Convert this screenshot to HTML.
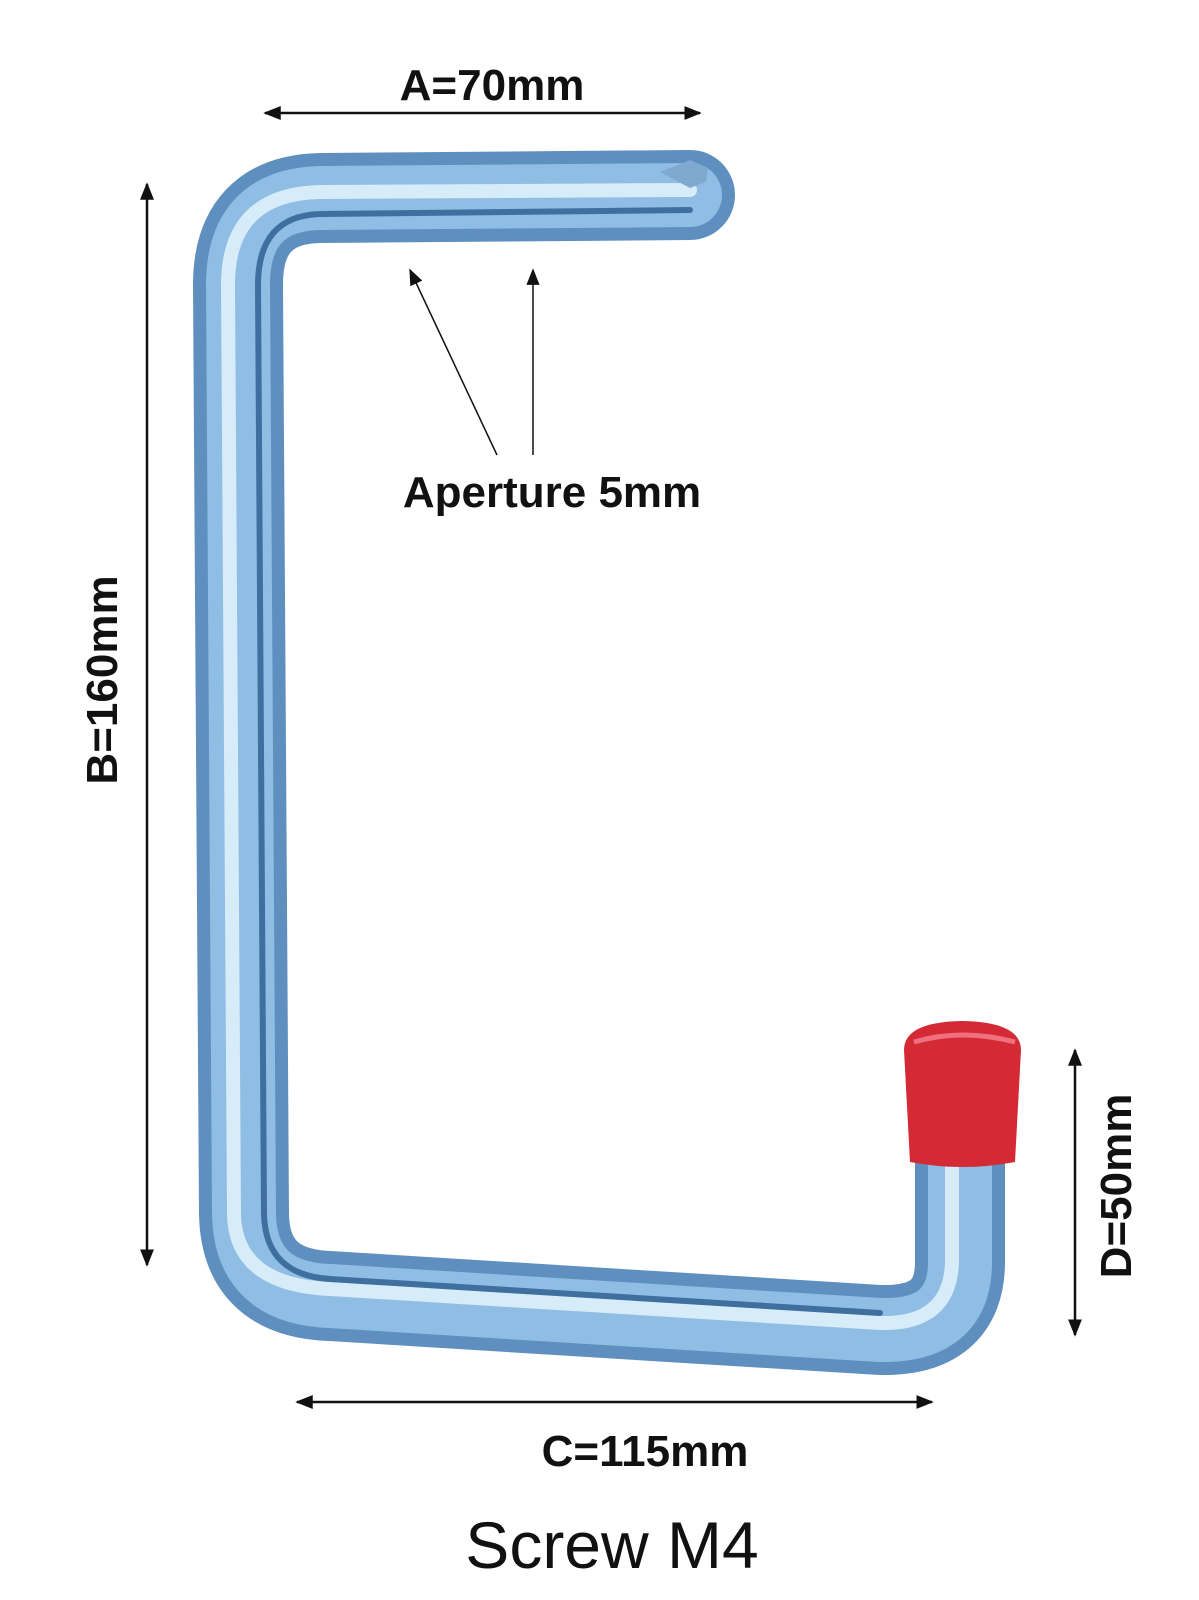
<!DOCTYPE html>
<html><head><meta charset="utf-8"><style>
html,body{margin:0;padding:0;background:#fff;}
svg{display:block}
text{font-family:"Liberation Sans",sans-serif;}
</style></head><body>
<svg width="1199" height="1600" viewBox="0 0 1199 1600" xmlns="http://www.w3.org/2000/svg">
<defs>
<marker id="ah" viewBox="0 0 10 10" refX="9" refY="5" markerWidth="7" markerHeight="7" orient="auto-start-reverse"><path d="M0,1 L10,5 L0,9 z" fill="#111"/></marker>
<marker id="ah2" viewBox="0 0 10 10" refX="9" refY="5" markerWidth="11" markerHeight="11" orient="auto"><path d="M0,1 L10,5 L0,9 z" fill="#111"/></marker>
</defs>
<g fill="none" stroke-linecap="round" stroke-linejoin="round">
<path d="M690 195 L320 198 Q238 200 238 285 L244 1215 Q246 1293 330 1296 L880 1330 Q960 1332 960 1262 L960 1140" stroke="#5f8fbf" stroke-width="90"/>
<path d="M690 195 L320 198 Q238 200 238 285 L244 1215 Q246 1293 330 1296 L880 1330 Q960 1332 960 1262 L960 1140" stroke="#8fbde3" stroke-width="64"/>
<path d="M690 190 L320 192 Q228 194 228 285 L234 1215 Q236 1285 330 1289 L880 1323 Q950 1325 952 1262 L952 1140" stroke="#d6ecf8" stroke-width="14"/>
<path d="M690 210 L320 214 Q258 216 258 285 L264 1215 Q266 1275 330 1279 L880 1313" stroke="#3f6f9f" stroke-width="6"/>
</g>
<path d="M660 172 L690 160 L708 168 L706 182 L690 188 Z" fill="#7fa9cf"/>
<path d="M910 1162 L904 1050 Q904 1022 962 1021 Q1021 1022 1021 1050 L1015 1162 Q962 1172 910 1162 Z" fill="#d42a35"/>
<path d="M914 1042 Q962 1028 1015 1042" stroke="#f07080" stroke-width="5" fill="none"/>
<g stroke="#111" stroke-width="2.5" fill="none">
<line x1="265" y1="113" x2="700" y2="113" marker-start="url(#ah)" marker-end="url(#ah)"/>
<line x1="147" y1="184" x2="147" y2="1265" marker-start="url(#ah)" marker-end="url(#ah)"/>
<line x1="297" y1="1402" x2="932" y2="1402" marker-start="url(#ah)" marker-end="url(#ah)"/>
<line x1="1075" y1="1050" x2="1075" y2="1335" marker-start="url(#ah)" marker-end="url(#ah)"/>
<line x1="497" y1="455" x2="410" y2="270" stroke-width="1.5" marker-end="url(#ah2)"/>
<line x1="533" y1="455" x2="533" y2="270" stroke-width="1.5" marker-end="url(#ah2)"/>
</g>
<g font-weight="bold" font-size="44" fill="#111" text-anchor="middle">
<text x="492" y="100">A=70mm</text>
<text x="552" y="507">Aperture 5mm</text>
<text x="645" y="1466">C=115mm</text>
<text transform="translate(117 680) rotate(-90)">B=160mm</text>
<text transform="translate(1131 1186) rotate(-90)">D=50mm</text>
</g>
<text x="612" y="1568" font-size="66" fill="#111" text-anchor="middle">Screw M4</text>
</svg>
</body></html>
